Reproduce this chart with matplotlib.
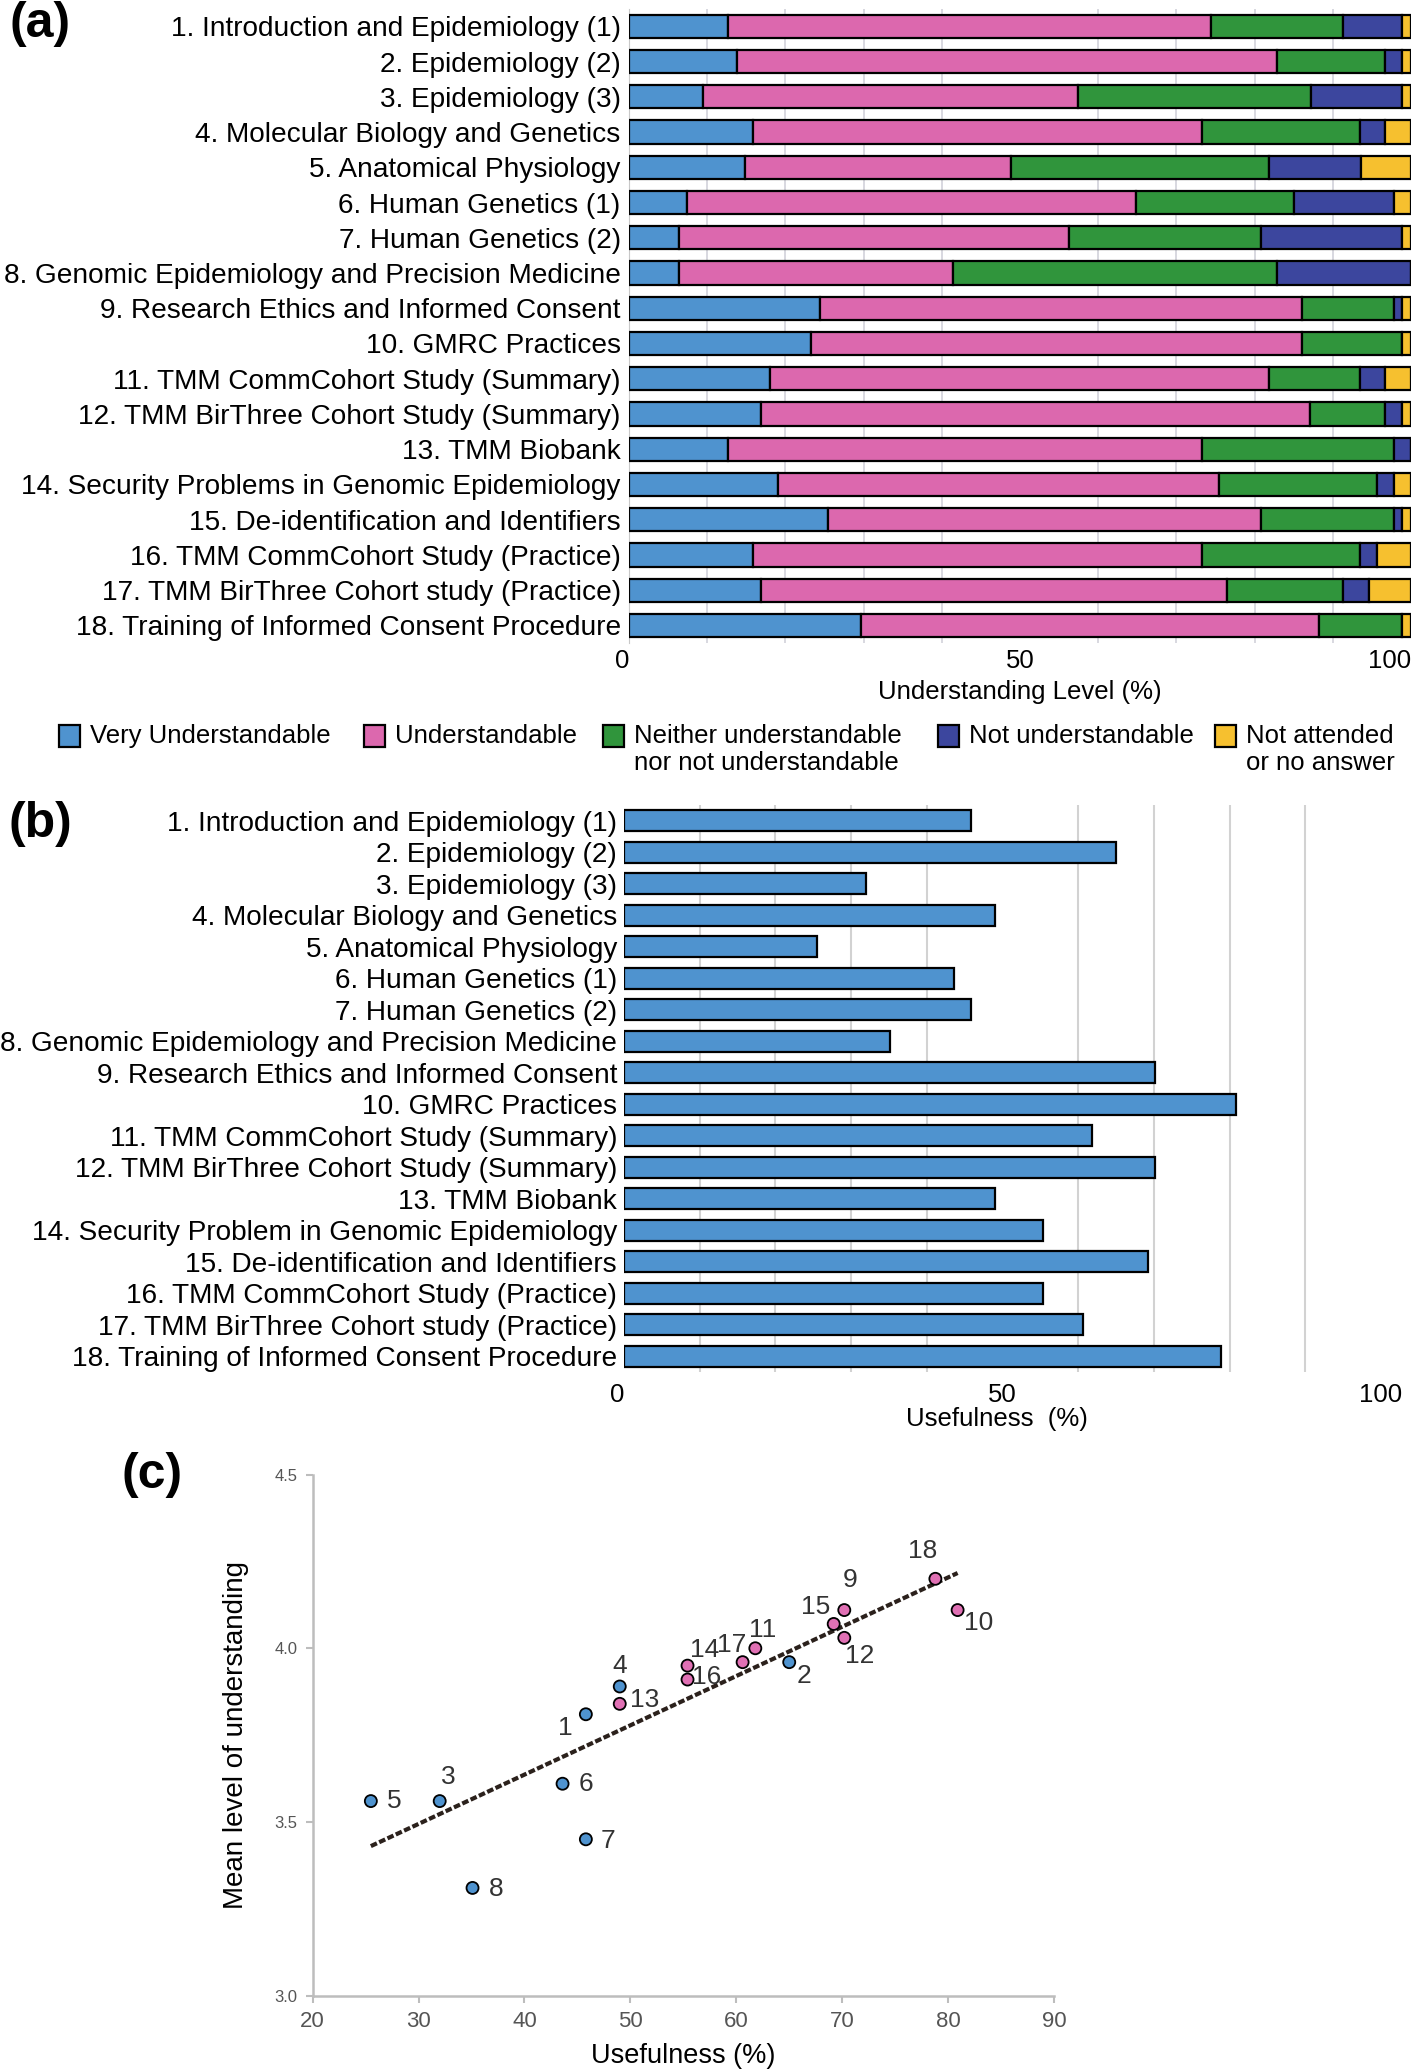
import numpy as np
import matplotlib
matplotlib.use("Agg")
import matplotlib.pyplot as plt
from matplotlib.patches import Rectangle

plt.rcParams["font.family"] = ["Liberation Sans", "DejaVu Sans"]
FS = 18.5       # legend, axis labels, ticks
FS_CAT = 20.2   # category labels

# ---------------- data ----------------
topics_a = [
    "1. Introduction and Epidemiology (1)",
    "2. Epidemiology (2)",
    "3. Epidemiology (3)",
    "4. Molecular Biology and Genetics",
    "5. Anatomical Physiology",
    "6. Human Genetics (1)",
    "7. Human Genetics (2)",
    "8. Genomic Epidemiology and Precision Medicine",
    "9. Research Ethics and Informed Consent",
    "10. GMRC Practices",
    "11. TMM CommCohort Study (Summary)",
    "12. TMM BirThree Cohort Study (Summary)",
    "13. TMM Biobank",
    "14. Security Problems in Genomic Epidemiology",
    "15. De-identification and Identifiers",
    "16. TMM CommCohort Study (Practice)",
    "17. TMM BirThree Cohort study (Practice)",
    "18. Training of Informed Consent Procedure",
]
topics_b = list(topics_a)
topics_b[13] = "14. Security Problem in Genomic Epidemiology"

level_names = ["Very Understandable", "Understandable",
               "Neither understandable\nnor not understandable",
               "Not understandable", "Not attended\nor no answer"]
level_colors = ["#4f93cf", "#dc68ae", "#30953c", "#3c469e", "#f6c02f"]

very_und = [12.7, 13.8, 9.5, 15.9, 14.8, 7.4, 6.4, 6.4, 24.4, 23.3, 18.0, 16.9, 12.7, 19.1, 25.5, 15.9, 16.9, 29.7]
understandable = [61.7, 69.1, 47.9, 57.4, 34.1, 57.4, 49.9, 35.0, 61.7, 62.8, 63.9, 70.2, 60.6, 56.3, 55.3, 57.4, 59.6, 58.5]
neither = [16.9, 13.8, 29.8, 20.2, 33.0, 20.2, 24.5, 41.5, 11.7, 12.7, 11.6, 9.6, 24.5, 20.2, 17.0, 20.2, 14.8, 10.6]
not_und = [7.5, 2.1, 11.6, 3.2, 11.7, 12.8, 18.0, 17.1, 1.0, 0.0, 3.2, 2.1, 2.2, 2.2, 1.0, 2.1, 3.3, 0.0]
not_att = [1.2, 1.2, 1.2, 3.3, 6.4, 2.2, 1.2, 0.0, 1.2, 1.2, 3.3, 1.2, 0.0, 2.2, 1.2, 4.4, 5.4, 1.2]

usefulness = [45.8, 65.0, 32.0, 49.0, 25.5, 43.6, 45.8, 35.1, 70.2, 80.9,
              61.8, 70.2, 49.0, 55.4, 69.2, 55.4, 60.6, 78.8]
mean_understanding = [3.81, 3.96, 3.56, 3.89, 3.56, 3.61, 3.45, 3.31, 4.11, 4.11,
                      4.00, 4.03, 3.84, 3.95, 4.07, 3.91, 3.96, 4.20]
point_group = ["blue"] * 8 + ["pink"] * 10
# label offsets (points) for the scatter numbers
label_offsets = [(-15, -10), (11, -10), (6, 17), (0, 15), (17, 0), (17, 0), (16, -1), (17, -1),
                 (4, 22), (15, -9), (5, 13), (11, -13), (18, 3), (12, 11), (-13, 12), (14, 2),
                 (-8, 12), (-9, 20)]

# ---------------- figure ----------------
fig = plt.figure(figsize=(14.14, 20.69), dpi=100)
W, H = 1414.0, 2069.0

def axes_px(l, t, r, b):
    return fig.add_axes([l / W, 1 - b / H, (r - l) / W, (b - t) / H])

# (a) stacked bars
ax1 = axes_px(629, 8.7, 1411, 643)
y = np.arange(len(topics_a))
left = np.zeros(len(topics_a))
for vals, col in zip([very_und, understandable, neither, not_und, not_att], level_colors):
    ax1.barh(y, vals, left=left, height=0.66, color=col, edgecolor="black", linewidth=1.6, zorder=3)
    left += np.array(vals)
ax1.set_xlim(0, 100)
ax1.set_ylim(len(topics_a) - 0.5, -0.5)
ax1.set_yticks(y)
ax1.set_yticklabels(topics_a, fontsize=FS_CAT)
ax1.set_xticks([0, 50, 100])
ax1.set_xticklabels(["0", "50", "100"], fontsize=FS)
ax1.get_xticklabels()[0].set_horizontalalignment("right")
ax1.get_xticklabels()[-1].set_horizontalalignment("right")
ax1.set_xticks(np.arange(0, 101, 10), minor=True)
ax1.tick_params(axis="both", which="both", length=0)
ax1.tick_params(axis="y", pad=6)
ax1.tick_params(axis="x", pad=4)
ax1.grid(axis="x", which="minor", color="#d2d2da", linewidth=1.2, zorder=0)
ax1.set_axisbelow(True)
for s in ["top", "right", "bottom"]:
    ax1.spines[s].set_visible(False)
ax1.spines["left"].set_color("#c8c8c8")
ax1.set_xlabel("Understanding Level (%)", fontsize=FS)
ax1.xaxis.set_label_coords(0.5, -0.058)

# legend (manual placement)
leg_x = [59, 364, 603, 938, 1215]
for lx, name, col in zip(leg_x, level_names, level_colors):
    fig.patches.append(Rectangle((lx / W, 1 - 747 / H), 21 / W, 22 / H, transform=fig.transFigure,
                                 facecolor=col, edgecolor="black", linewidth=1.6))
    fig.text((lx + 31) / W, 1 - 724 / H, name, fontsize=FS, va="top", ha="left", linespacing=1.18)

# (b) usefulness bars
ax2 = axes_px(624, 805, 1381, 1372)
ax2.barh(y, usefulness, height=0.66, color=level_colors[0], edgecolor="black", linewidth=1.6, zorder=3)
ax2.set_xlim(0, 100)
ax2.set_ylim(len(topics_b) - 0.5, -0.5)
ax2.set_yticks(y)
ax2.set_yticklabels(topics_b, fontsize=FS_CAT)
ax2.set_xticks([0, 50, 100])
ax2.set_xticklabels(["0", "50", "100"], fontsize=FS)
ax2.get_xticklabels()[0].set_horizontalalignment("right")
ax2.set_xticks(np.arange(0, 101, 10), minor=True)
ax2.tick_params(axis="both", which="both", length=0)
ax2.tick_params(axis="y", pad=5)
ax2.tick_params(axis="x", pad=8)
ax2.grid(axis="x", which="minor", color="#d2d2d2", linewidth=1.5, zorder=0)
ax2.set_axisbelow(True)
for s in ["top", "right", "bottom", "left"]:
    ax2.spines[s].set_visible(False)
ax2.set_xlabel("Usefulness  (%)", fontsize=FS)
ax2.xaxis.set_label_coords(0.493, -0.062)

# (c) scatter
ax3 = axes_px(312.6, 1474.6, 1054, 1995.6)
pt_colors = [level_colors[0] if g == "blue" else "#e070b4" for g in point_group]
ax3.scatter(usefulness, mean_understanding, s=75, c=pt_colors, edgecolors="black", linewidths=1.3, zorder=3)
coef = np.polyfit(usefulness, mean_understanding, 1)
xs = np.array([min(usefulness), max(usefulness)])
ax3.plot(xs, np.polyval(coef, xs), color="#2b211c", linewidth=3, linestyle=(0, (1.6, 0.6)), zorder=2)
for i, (ux, my) in enumerate(zip(usefulness, mean_understanding)):
    ax3.annotate(str(i + 1), (ux, my), xytext=label_offsets[i], textcoords="offset points",
                 ha="center", va="center", fontsize=19, color="#333333")
ax3.set_xlim(20, 90)
ax3.set_ylim(3.0, 4.5)
ax3.set_xticks(np.arange(20, 91, 10))
ax3.set_yticks([3.0, 3.5, 4.0, 4.5])
ax3.set_yticklabels(["3.0", "3.5", "4.0", "4.5"])
ax3.tick_params(axis="both", colors="#bdbdbd", labelcolor="#555555", length=5, width=1.5)
ax3.tick_params(axis="x", labelsize=16, pad=6)
ax3.tick_params(axis="y", labelsize=12, pad=6)
for s in ["top", "right"]:
    ax3.spines[s].set_visible(False)
for s in ["left", "bottom"]:
    ax3.spines[s].set_color("#bdbdbd")
    ax3.spines[s].set_linewidth(1.8)
ax3.set_xlabel("Usefulness (%)", fontsize=19.5, labelpad=8)
ax3.set_ylabel("Mean level of understanding", fontsize=20, labelpad=18)

# panel letters
for tx, ty, lab in [(40, 24, "(a)"), (40, 824, "(b)"), (152, 1475, "(c)")]:
    fig.text(tx / W, 1 - ty / H, lab, fontsize=36, fontweight="bold", ha="center", va="center")

fig.savefig("out.png", dpi=100)
